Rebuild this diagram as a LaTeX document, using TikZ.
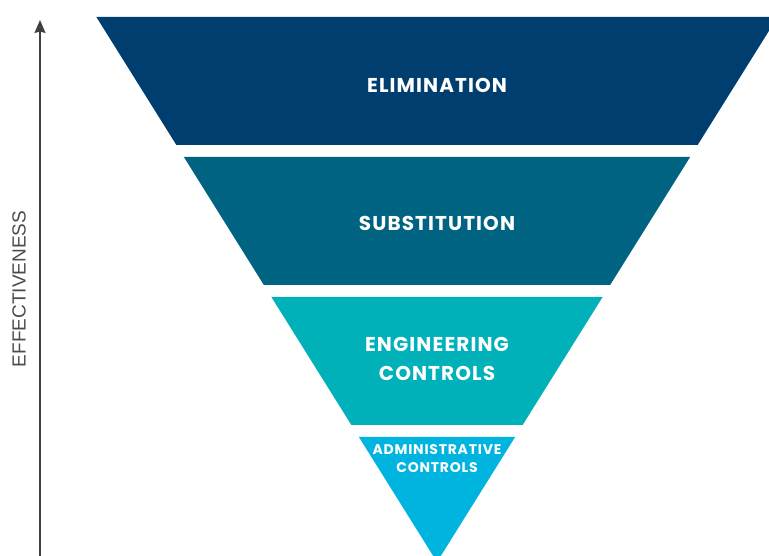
\documentclass[tikz,border=0pt]{standalone}
\usepackage{fontspec}
\setmainfont{Poppins}[LetterSpace=5.5]
\newfontfamily\axisfont{Liberation Sans}
\usetikzlibrary{arrows.meta}

\definecolor{elimBlue}{HTML}{003E70}
\definecolor{substBlue}{HTML}{006381}
\definecolor{enginTeal}{HTML}{00B1BA}
\definecolor{adminCyan}{HTML}{00B4E0}

\begin{document}
\begin{tikzpicture}[x=1pt,y=1pt,
    level/.style={white,font=\bfseries,align=center,inner sep=0pt}]
    % Fix the page size and clip what runs over the edges
    \useasboundingbox (0,0) rectangle (769,556);
    \clip (0,0) rectangle (769,556);

    % Funnel geometry: apex below the page, half width grows by slope
    \def\cx{437}
    \def\apexY{-6}
    \def\slope{0.625}

    % Elimination (top band)
    \fill[elimBlue] ({\cx-(539-\apexY)*\slope},539) -- ({\cx+(539-\apexY)*\slope},539)
    -- ({\cx+(411-\apexY)*\slope},411) -- ({\cx-(411-\apexY)*\slope},411) -- cycle;

    % Substitution
    \fill[substBlue] ({\cx-(399-\apexY)*\slope},399) -- ({\cx+(399-\apexY)*\slope},399)
    -- ({\cx+(271-\apexY)*\slope},271) -- ({\cx-(271-\apexY)*\slope},271) -- cycle;

    % Engineering controls
    \fill[enginTeal] ({\cx-(259-\apexY)*\slope},259) -- ({\cx+(259-\apexY)*\slope},259)
    -- ({\cx+(131-\apexY)*\slope},131) -- ({\cx-(131-\apexY)*\slope},131) -- cycle;

    % Administrative controls (bottom triangle)
    \fill[adminCyan] ({\cx-(119-\apexY)*\slope},119) -- ({\cx+(119-\apexY)*\slope},119)
    -- (\cx,\apexY) -- cycle;

    % Band labels
    \node[level,font=\fontsize{20}{20}\selectfont\bfseries] (elim) at (\cx,471) {ELIMINATION};
    \node[level,font=\fontsize{20}{20}\selectfont\bfseries] (subst) at (\cx,333) {SUBSTITUTION};
    \node[level,font=\fontsize{20}{29}\selectfont\bfseries] (engin) at (\cx,197) {ENGINEERING\\CONTROLS};
    \node[level,font=\fontsize{14}{18}\selectfont\bfseries] (admin) at (\cx,97) {ADMINISTRATIVE\\CONTROLS};

    % Effectiveness axis
    \coordinate (arrowfoot) at (40,0);
    \coordinate (arrowtip) at (40,536);
    \draw[line width=1.5pt,black!75,-{Stealth[length=13pt,width=11pt,inset=1.5pt]}]
    (arrowfoot) -- (arrowtip);
    \node[rotate=90,black!70,font=\axisfont\fontsize{19}{19}\selectfont] (effect) at (19,267)
    {EFFECTIVENESS};
  \end{tikzpicture}
\end{document}
